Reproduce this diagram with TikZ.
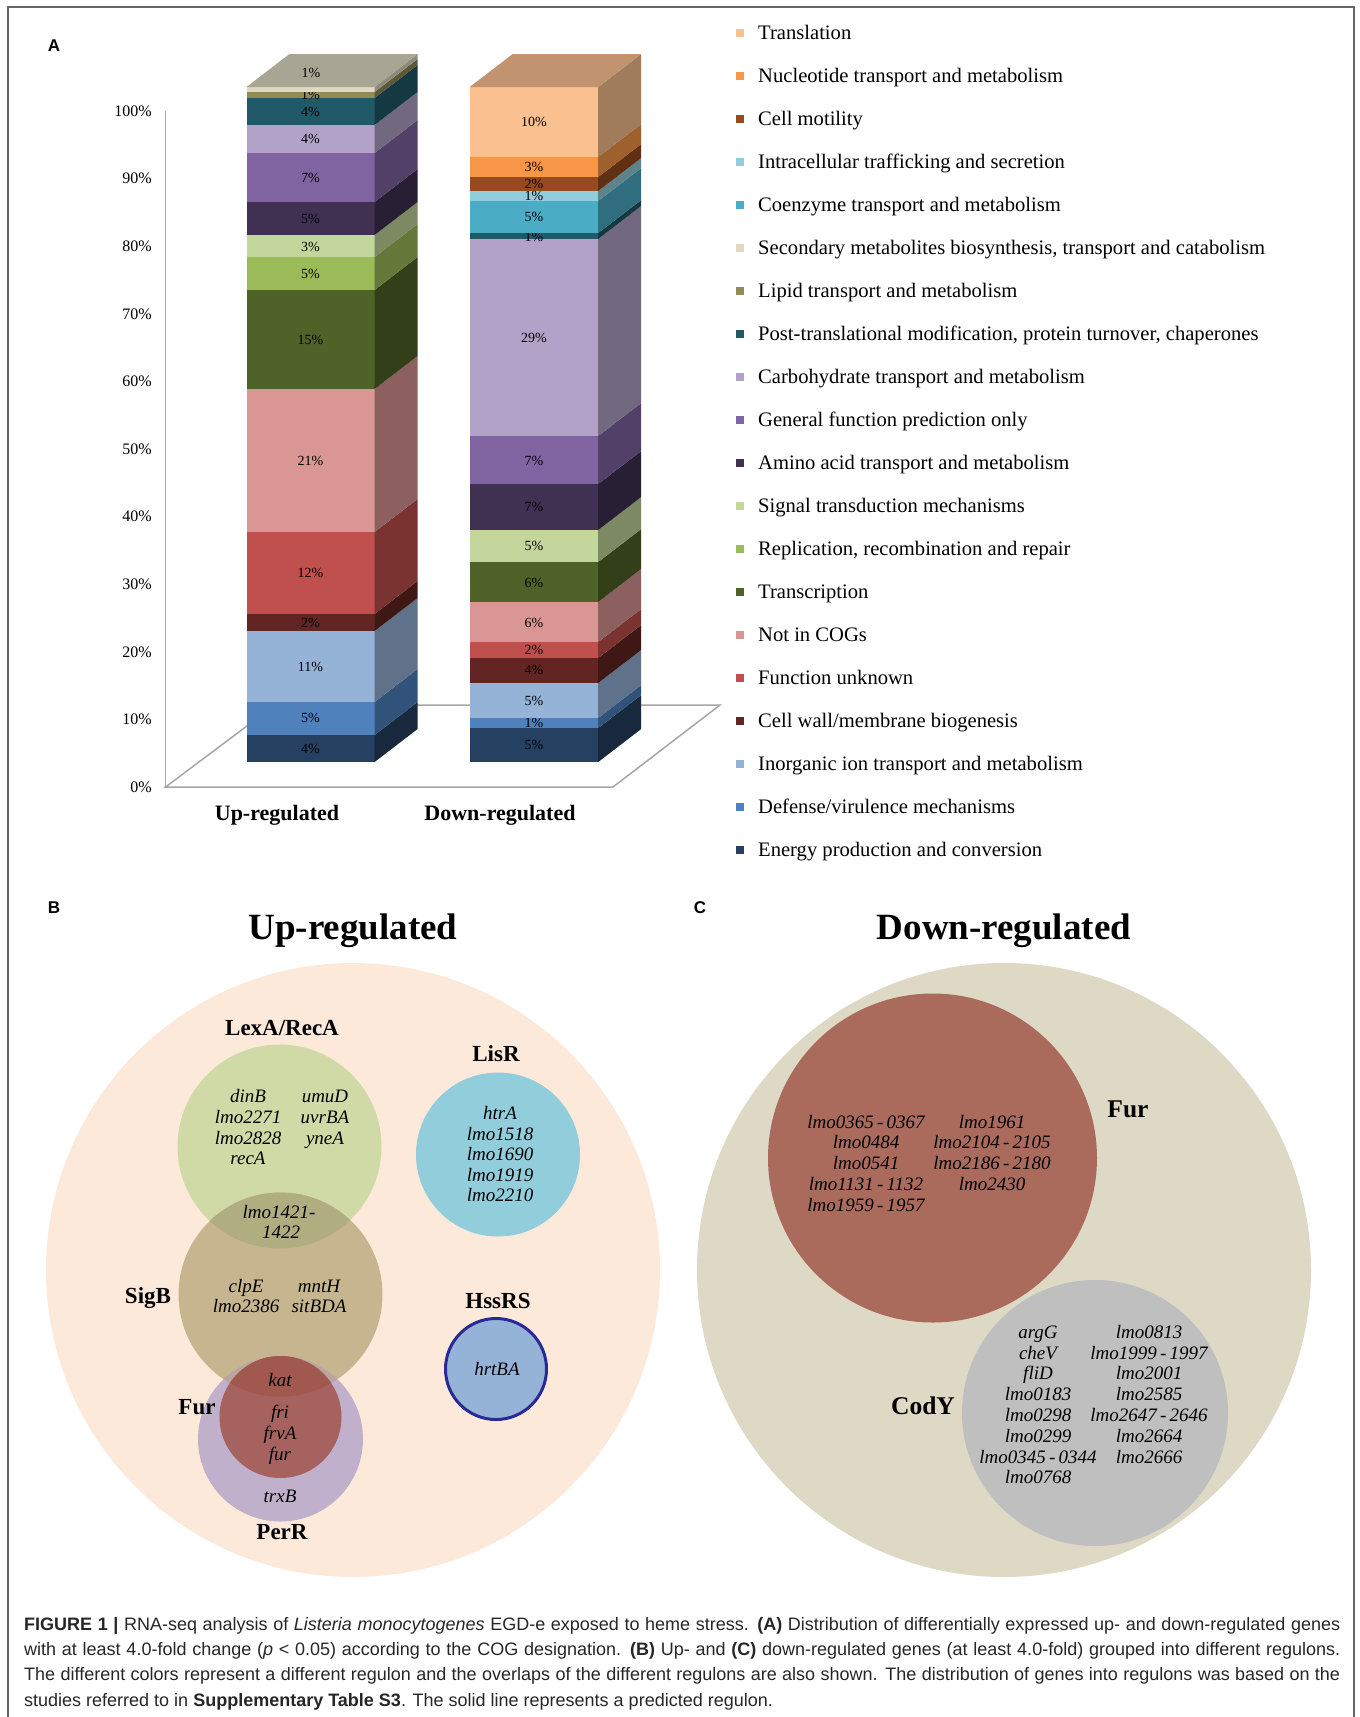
\documentclass[tikz,border=0pt]{standalone}
\usepackage{fontspec}
\setmainfont{Liberation Serif}
\setsansfont{Liberation Sans}
\usepackage{tikz}
\newcommand\fsz[1]{\fontsize{#1}{#1}\selectfont}

% COG colours
\definecolor{cTl}{HTML}{FAC090}
\definecolor{cNu}{HTML}{F79646}
\definecolor{cMo}{HTML}{974A1E}
\definecolor{cIt}{HTML}{92CDDC}
\definecolor{cCo}{HTML}{4BACC6}
\definecolor{cSe}{HTML}{DDD9C3}
\definecolor{cLi}{HTML}{948A54}
\definecolor{cPo}{HTML}{215968}
\definecolor{cCa}{HTML}{B3A2C7}
\definecolor{cGe}{HTML}{8064A2}
\definecolor{cAm}{HTML}{403152}
\definecolor{cSi}{HTML}{C3D69B}
\definecolor{cRe}{HTML}{9BBB59}
\definecolor{cTr}{HTML}{4F6228}
\definecolor{cNc}{HTML}{D99694}
\definecolor{cFu}{HTML}{C0504D}
\definecolor{cCw}{HTML}{632523}
\definecolor{cIn}{HTML}{95B3D7}
\definecolor{cDe}{HTML}{4F81BD}
\definecolor{cEn}{HTML}{254061}
% regulon colours
\definecolor{cPeach}{HTML}{FCE9DA}
\definecolor{cLex}{HTML}{CFDAA7}
\definecolor{cLexSig}{HTML}{B0AE80}
\definecolor{cSig}{HTML}{C6B58F}
\definecolor{cPer}{HTML}{C1B0CC}
\definecolor{cSigPer}{HTML}{B9A49E}
\definecolor{cFurB}{HTML}{A6625E}
\definecolor{cFurSig}{HTML}{A0584F}
\definecolor{cLis}{HTML}{92CDDC}
\definecolor{cHss}{HTML}{95B3D7}
\definecolor{cHssLine}{HTML}{2A2A96}
\definecolor{cBeige}{HTML}{DDD9C4}
\definecolor{cFurC}{HTML}{AA6B5D}
\definecolor{cCod}{HTML}{BFBFBF}

\begin{document}
\begin{tikzpicture}
	[x=1pt,y=-1pt,every node/.style={inner sep=0pt},
	 th/.style={text height=0.86*#1pt, text depth=0.2*#1pt}]
	\tikzstyle{pct} = [th=14, font=\fsz{14}];
	\tikzstyle{tick} = [th=16, font=\fsz{16}, anchor=east];
	\tikzstyle{leg} = [th=20.6, font=\fsz{20.6}, anchor=west];
	\tikzstyle{panel} = [th=17, font=\sffamily\bfseries\fsz{17}];
	\tikzstyle{reg} = [th=23, font=\bfseries\fsz{23}];
	\tikzstyle{regc} = [th=25.5, font=\bfseries\fsz{25.5}];
	\tikzstyle{gene} = [th=19, font=\itshape\fsz{19}];
	\tikzstyle{axis} = [draw=black!35, line width=1.5pt];
	
	\useasboundingbox (0,0) rectangle (1360,1717);
	\draw[black!60, line width=1.5pt] (8,1717) -- (8,7) -- (1354,7) -- (1354,1717);
	
	% panel A
	\node[panel] (pa) at (54,46) {A};
	\draw[axis] (165.5,111) -- (165.5,787);
	\draw[axis] (165.5,787) -- (613,787) -- (720,705) -- (275,705) -- cycle;
	\foreach \k in {0,...,10}
		\node[tick] (t\k) at (152,787-67.6*\k) {\the\numexpr\k*10\relax\%};
	
	% up-regulated bar
	\foreach \yb/\yt/\c/\ly/\t [count=\i] in {762/735/cEn/749/4\%, 735/702/cDe/718/5\%,
		702/631/cIn/667/11\%, 631/614/cCw/623/2\%, 614/532/cFu/573/12\%, 532/389/cNc/461/21\%,
		389/290/cTr/340/15\%, 290/257/cRe/274/5\%, 257/235/cSi/247/3\%, 235/202/cAm/219/5\%,
		202/153/cGe/178/7\%, 153/125/cCa/139/4\%, 125/98/cPo/112/4\%, 98/92/cLi/95/1\%, 92/87/cSe/89/{}} {
		\fill[\c] (246.5,\yb) rectangle (374.6,\yt);
		\fill[\c!64!black] (374.6,\yb) -- (417.6,\yb-33) -- (417.6,\yt-33) -- (374.6,\yt) -- cycle;
		\node[pct] (u\i) at (310.5,\ly) {\t};
	}
	\fill[cSe!76!black] (246.5,87) -- (374.6,87) -- (417.6,54) -- (289.5,54) -- cycle;
	\node[pct] (utop) at (311,73) {1\%};
	
	% down-regulated bar
	\foreach \yb/\yt/\c/\ly/\t [count=\i] in {762/728/cEn/745/5\%, 728/718/cDe/723/1\%,
		718/683/cIn/701/5\%, 683/658/cCw/670/4\%, 658/642/cFu/650/2\%, 642/602/cNc/623/6\%,
		602/562/cTr/583/6\%, 562/530/cSi/546/5\%, 530/484/cAm/507/7\%, 484/436/cGe/461/7\%,
		436/239/cCa/338/29\%, 239/233/cPo/237/1\%, 233/201/cCo/217/5\%, 201/191/cIt/196/1\%,
		191/177/cMo/184/2\%, 177/157/cNu/167/3\%, 157/87/cTl/122/10\%} {
		\fill[\c] (469.7,\yb) rectangle (598.2,\yt);
		\fill[\c!64!black] (598.2,\yb) -- (641.2,\yb-33) -- (641.2,\yt-33) -- (598.2,\yt) -- cycle;
		\node[pct] (d\i) at (534,\ly) {\t};
	}
	\fill[cTl!77!black] (469.7,87) -- (598.2,87) -- (641.2,54) -- (512.7,54) -- cycle;
	
	\node[th=22, font=\bfseries\fsz{22}] (xup) at (277,813) {Up-regulated};
	\node[th=22, font=\bfseries\fsz{22}] (xdown) at (500,813) {Down-regulated};
	
	% legend
	\foreach \c/\t [count=\i from 0] in {cTl/Translation, cNu/Nucleotide transport and metabolism,
		cMo/Cell motility, cIt/Intracellular trafficking and secretion,
		cCo/Coenzyme transport and metabolism,
		cSe/{Secondary metabolites biosynthesis, transport and catabolism},
		cLi/Lipid transport and metabolism,
		cPo/{Post-translational modification, protein turnover, chaperones},
		cCa/Carbohydrate transport and metabolism, cGe/General function prediction only,
		cAm/Amino acid transport and metabolism, cSi/Signal transduction mechanisms,
		cRe/{Replication, recombination and repair}, cTr/Transcription, cNc/Not in COGs,
		cFu/Function unknown, cCw/{Cell wall/membrane biogenesis},
		cIn/Inorganic ion transport and metabolism, cDe/{Defense/virulence mechanisms},
		cEn/Energy production and conversion} {
		\fill[\c] (736,33+43*\i-4) rectangle ++(8,8);
		\node[leg] (l\i) at (758,33+43*\i) {\t};
	}
	
	% panel B
	\node[panel] (pb) at (54,908) {B};
	\node[th=37, font=\bfseries\fsz{37}] (tb) at (353,927) {Up-regulated};
	\fill[cPeach] (353,1270) circle [radius=307pt];
	\fill[cLex] (279.5,1146.5) circle [radius=102pt];
	\fill[cSig] (280.5,1294.5) circle [radius=102pt];
	\begin{scope}
		\clip (279.5,1146.5) circle [radius=102pt];
		\fill[cLexSig] (280.5,1294.5) circle [radius=102pt];
	\end{scope}
	\fill[cPer] (280.5,1439) circle [radius=82.5pt];
	\begin{scope}
		\clip (280.5,1294.5) circle [radius=102pt];
		\fill[cSigPer] (280.5,1439) circle [radius=82.5pt];
	\end{scope}
	\fill[cFurB] (280.5,1417) circle [radius=61pt];
	\begin{scope}
		\clip (280.5,1294.5) circle [radius=102pt];
		\fill[cFurSig] (280.5,1417) circle [radius=61pt];
	\end{scope}
	\fill[cLis] (498,1154.5) circle [radius=82pt];
	\filldraw[fill=cHss, draw=cHssLine, line width=3pt] (496,1369) circle [radius=50.5pt];
	
	\node[reg] (lexa) at (282,1028) {LexA/RecA};
	\node[reg] (sigb) at (148,1296) {SigB};
	\node[reg] (furb) at (197,1407) {Fur};
	\node[reg] (perr) at (282,1532) {PerR};
	\node[reg] (lisr) at (496,1054) {LisR};
	\node[reg] (hssrs) at (498,1301) {HssRS};
	
	\foreach \g [count=\i from 0] in {dinB,lmo2271,lmo2828,recA}
		\node[gene] (lx\i) at (248,1096.5+20.7*\i) {\g};
	\foreach \g [count=\i from 0] in {umuD,uvrBA,yneA}
		\node[gene] (ly\i) at (325,1096.5+20.7*\i) {\g};
	\node[gene] (ls1) at (279,1212) {lmo1421-};
	\node[gene] (ls2) at (281,1232) {1422};
	\foreach \g [count=\i from 0] in {clpE,lmo2386}
		\node[gene] (sx\i) at (246,1286+20.7*\i) {\g};
	\foreach \g [count=\i from 0] in {mntH,sitBDA}
		\node[gene] (sy\i) at (319,1286+20.7*\i) {\g};
	\node[gene] (fk) at (280,1380) {kat};
	\foreach \g [count=\i from 0] in {fri,frvA,fur}
		\node[gene] (fx\i) at (280,1412+20.9*\i) {\g};
	\node[gene] (pt) at (280,1496) {trxB};
	\foreach \g [count=\i from 0] in {htrA,lmo1518,lmo1690,lmo1919,lmo2210}
		\node[gene] (li\i) at (500,1113.5+20.5*\i) {\g};
	\node[gene] (hb) at (497,1369) {hrtBA};
	
	% panel C
	\node[panel] (pc) at (700,908) {C};
	\node[th=37, font=\bfseries\fsz{37}] (tc) at (1004,927) {Down-regulated};
	\fill[cBeige] (1004,1270) circle [radius=307pt];
	\fill[cFurC] (932.5,1158) circle [radius=164.5pt];
	\fill[cCod] (1095,1413) circle [radius=133pt];
	\node[regc] (furc) at (1128,1109) {Fur};
	\node[regc] (cody) at (923,1406) {CodY};
	
	\foreach \g [count=\i from 0] in {{lmo0365\thinspace-\thinspace0367},lmo0484,lmo0541,
		{lmo1131\thinspace-\thinspace1132},{lmo1959\thinspace-\thinspace1957}}
		\node[gene] (cx\i) at (866,1122+20.7*\i) {\g};
	\foreach \g [count=\i from 0] in {lmo1961,{lmo2104\thinspace-\thinspace2105},
		{lmo2186\thinspace-\thinspace2180},lmo2430}
		\node[gene] (cy\i) at (992,1122+20.7*\i) {\g};
	\foreach \g [count=\i from 0] in {argG,cheV,fliD,lmo0183,lmo0298,lmo0299,
		{lmo0345\thinspace-\thinspace0344},lmo0768}
		\node[gene] (ox\i) at (1038,1332+20.8*\i) {\g};
	\foreach \g [count=\i from 0] in {lmo0813,{lmo1999\thinspace-\thinspace1997},lmo2001,lmo2585,
		{lmo2647\thinspace-\thinspace2646},lmo2664,lmo2666}
		\node[gene] (oy\i) at (1149,1332+20.8*\i) {\g};
	
	% caption
	\node[anchor=north west, text width=1316pt, align=justify, text=black!85,
		font=\sffamily\fontsize{18}{25.3}\selectfont] (cap) at (24,1617)
		{\textbf{FIGURE 1 |} RNA-seq analysis of \textit{Listeria monocytogenes} EGD-e exposed to heme stress. \textbf{(A)} Distribution of differentially expressed up- and down-regulated genes\linebreak
		with at least 4.0-fold change (\textit{p} < 0.05) according to the COG designation. \textbf{(B)} Up- and \textbf{(C)} down-regulated genes (at least 4.0-fold) grouped into different regulons.\linebreak
		The different colors represent a different regulon and the overlaps of the different regulons are also shown. The distribution of genes into regulons was based on the\linebreak
		studies referred to in \textbf{Supplementary Table S3}. The solid line represents a predicted regulon.};
\end{tikzpicture}
\end{document}
